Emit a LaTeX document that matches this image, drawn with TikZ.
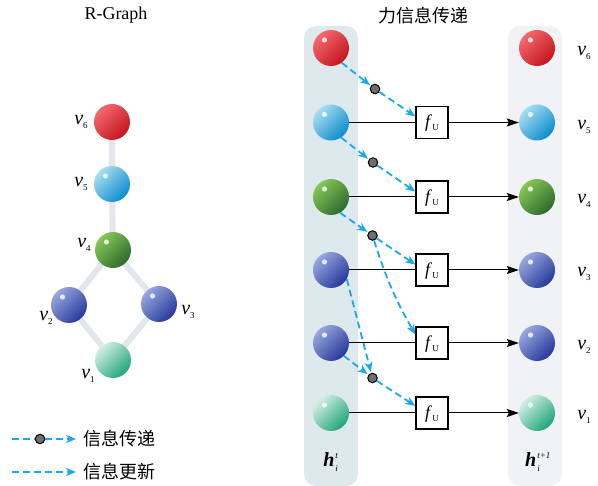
\documentclass[tikz,border=0pt]{standalone}
\usepackage{fontspec}
\setmainfont{Liberation Serif}
\newfontfamily\cjk{Noto Sans CJK SC}
\usetikzlibrary{arrows.meta,calc,backgrounds}

\definecolor{msgblue}{HTML}{1AA7EC}
\definecolor{dotgray}{HTML}{6E6E6E}
\definecolor{edgegray}{HTML}{E3E6EA}
\definecolor{panelL}{HTML}{DEE9EE}
\definecolor{panelR}{HTML}{F1F2F6}
% ball colours: light / dark
\definecolor{redL}{HTML}{F26A6E}\definecolor{redD}{HTML}{C4141E}
\definecolor{cyaL}{HTML}{A9DDF1}\definecolor{cyaD}{HTML}{0A8CCD}
\definecolor{grnL}{HTML}{88C757}\definecolor{grnD}{HTML}{2C6A2E}
\definecolor{bluL}{HTML}{98A7DE}\definecolor{bluD}{HTML}{26389A}
\definecolor{mntL}{HTML}{D2EFE6}\definecolor{mntD}{HTML}{1EA578}

% node label v_k
\newcommand\vsub[1]{\fontsize{20}{20}\selectfont\textit{v}\raisebox{-4pt}{\fontsize{9}{9}\selectfont #1}}
% embedding h_i^{s}
\newcommand\hemb[1]{\fontsize{20}{20}\selectfont\textbf{\textit{h}}\kern1pt\rlap{\raisebox{8pt}{\fontsize{9}{9}\selectfont\textit{#1}}}\raisebox{-5pt}{\fontsize{9}{9}\selectfont\textit{i}}\phantom{\fontsize{9}{9}\selectfont\textit{#1}}}
% update function f_U
\newcommand\fupd{\fontsize{18}{18}\selectfont\textit{f}\raisebox{-3pt}{\fontsize{9}{9}\selectfont U}}

\begin{document}
\begin{tikzpicture}[x=1pt,y=-1pt,
  orb/.style n args={2}{circle, minimum size=36pt, inner sep=0pt,
    top color=#1, bottom color=#2, shading angle=45},
  shine/.style={path picture={\fill[white,opacity=.8]
    ($(path picture bounding box.center)+(-6.5pt,8pt)$) circle (2.6pt);}},
  edge/.style={draw=edgegray, line width=6pt},
  msgplain/.style={draw=msgblue, line width=1.8pt, dash pattern=on 7pt off 4pt},
  msg/.style={msgplain, -{Stealth[length=10pt,width=8pt,inset=3pt]}},
  relay/.style={circle, fill=dotgray, draw=black, line width=1pt,
    minimum size=9.5pt, inner sep=0pt},
  fbox/.style={draw=black, line width=1.3pt, fill=white, minimum size=32pt,
    inner sep=0pt},
  feed/.style={draw=black, line width=1pt},
  outarrow/.style={feed, -{Stealth[length=12pt,width=8pt,inset=2pt]}},
  lab/.style={inner sep=0pt},
]
\useasboundingbox (0,0) rectangle (598,486);

% ---------- titles ----------
\node[lab, font=\fontsize{18}{18}\selectfont] (t1) at (116,15) {R-Graph};
\node[lab, font=\cjk\fontsize{18}{18}\selectfont] (t2) at (423,16) {力信息传递};

% ---------- R-Graph ----------
\node[orb={redL}{redD}] (g6) at (112,122) {};
\node[orb={cyaL}{cyaD}, shine] (g5) at (112,184) {};
\node[orb={grnL}{grnD}, shine] (g4) at (113,250) {};
\node[orb={bluL}{bluD}, shine] (g2) at (69,305) {};
\node[orb={bluL}{bluD}, shine] (g3) at (159,304) {};
\node[orb={mntL}{mntD}] (g1) at (113,360) {};
\begin{scope}[on background layer]
  \draw[edge] (g6) -- (g5);
  \draw[edge] (g5) -- (g4);
  \draw[edge] (g4) -- (g2);
  \draw[edge] (g4) -- (g3);
  \draw[edge] (g2) -- (g1);
  \draw[edge] (g3) -- (g1);
\end{scope}
\node[lab] (gl6) at (81,122) {\vsub{6}};
\node[lab] (gl5) at (81,184) {\vsub{5}};
\node[lab] (gl4) at (84,245) {\vsub{4}};
\node[lab] (gl2) at (46,318) {\vsub{2}};
\node[lab] (gl3) at (188,312) {\vsub{3}};
\node[lab] (gl1) at (88,376) {\vsub{1}};

% ---------- legend ----------
\coordinate (a1) at (12,439);
\node[relay] (ld) at (40,439) {};
\coordinate (a2) at (76,439);
\draw[msgplain] (a1) -- (ld);
\draw[msg] (ld) -- (a2);
\node[lab, anchor=west, font=\cjk\fontsize{18}{18}\selectfont] (lt1) at (83,439) {信息传递};
\coordinate (b1) at (12,472);
\coordinate (b2) at (76,472);
\draw[msg] (b1) -- (b2);
\node[lab, anchor=west, font=\cjk\fontsize{18}{18}\selectfont] (lt2) at (83,472) {信息更新};

% ---------- panels ----------
\begin{scope}[on background layer]
  \fill[panelL, rounded corners=12pt] (304,26) rectangle (358,486);
  \fill[panelR, rounded corners=12pt] (508,26) rectangle (562,486);
\end{scope}

% ---------- layer t ----------
\node[orb={redL}{redD}, shine] (l6) at (331,48) {};
\node[orb={cyaL}{cyaD}, shine] (l5) at (331,122.5) {};
\node[orb={grnL}{grnD}, shine] (l4) at (331,197) {};
\node[orb={bluL}{bluD}, shine] (l3) at (331,270) {};
\node[orb={bluL}{bluD}, shine] (l2) at (331,343) {};
\node[orb={mntL}{mntD}, shine] (l1) at (331,413) {};

% ---------- layer t+1 ----------
\node[orb={redL}{redD}, shine] (r6) at (537,48) {};
\node[orb={cyaL}{cyaD}, shine] (r5) at (537,122.5) {};
\node[orb={grnL}{grnD}, shine] (r4) at (537,197) {};
\node[orb={bluL}{bluD}, shine] (r3) at (537,270) {};
\node[orb={bluL}{bluD}, shine] (r2) at (537,343) {};
\node[orb={mntL}{mntD}, shine] (r1) at (537,413) {};

\node[lab] (rl6) at (584,53) {\vsub{6}};
\node[lab] (rl5) at (584,127) {\vsub{5}};
\node[lab] (rl4) at (584,201) {\vsub{4}};
\node[lab] (rl3) at (584,274) {\vsub{3}};
\node[lab] (rl2) at (584,347) {\vsub{2}};
\node[lab] (rl1) at (584,417) {\vsub{1}};

% ---------- update boxes ----------
\node[fbox] (f5) at (432,122.5) {};
\node[fbox] (f4) at (432,197) {};
\node[fbox] (f3) at (432,270) {};
\node[fbox] (f2) at (432,343) {};
\node[fbox] (f1) at (432,413) {};
\foreach \k in {1,...,5}{
  \node[lab] at ($(f\k.center)+(0,1)$) {\fupd};
  \draw[feed] (l\k.east) -- (f\k.west);
  \draw[outarrow] (f\k.east) -- (r\k.west);
}

% ---------- message relays ----------
\node[relay] (d6) at (375,89) {};
\node[relay] (d5) at (373,162.5) {};
\node[relay] (d4) at (372.5,235.5) {};
\node[relay] (d21) at (372.5,378) {};

\draw[msg, shorten >=1pt] (l6.-54) -- (d6);
\draw[msg] (d6) -- (f5.160);
\draw[msg, shorten >=1pt] (l5.-56) -- (d5);
\draw[msg] (d5) -- (f4.162);
\draw[msg, shorten >=1pt] (l4.-60) -- (d4);
\draw[msg] (d4) -- (f3.162);
\draw[msg] (d4) to[bend right=6] (f2.153);
\draw[msg, shorten >=1pt] (l3.-30) -- (d21);
\draw[msg, shorten >=1pt] (l2.-45) -- (d21);
\draw[msg] (d21) -- (f1.157);

% ---------- embeddings ----------
\node[lab] (ht) at (332,462) {\hemb{t}};
\node[lab] (ht1) at (539,462) {\hemb{t+1}};
\end{tikzpicture}
\end{document}
